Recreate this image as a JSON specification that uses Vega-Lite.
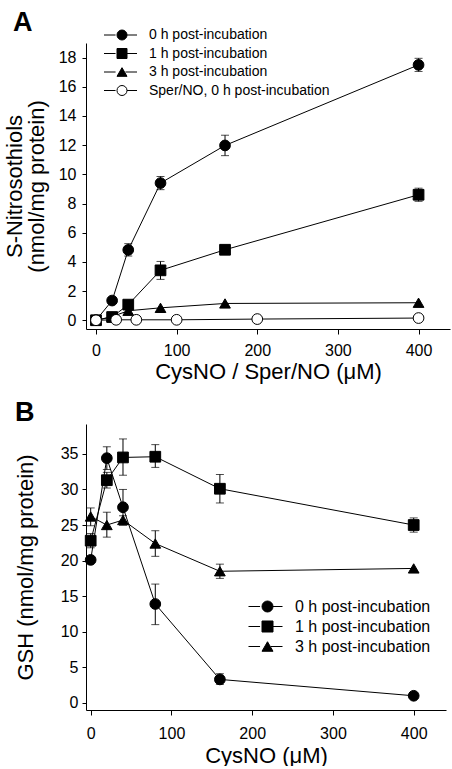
{
  "$schema": "https://vega.github.io/schema/vega-lite/v6.json",
  "padding": {"left": 3, "top": 9, "right": 2, "bottom": 0},
  "spacing": 17,
  "resolve": {"scale": {"shape": "independent", "fill": "independent", "stroke": "independent"}, "legend": {"shape": "independent", "fill": "independent", "stroke": "independent"}},
  "config": {
    "font": "Liberation Sans",
    "view": {"stroke": null},
    "axis": {"grid": false, "domainColor": "black", "tickColor": "black", "labelColor": "black", "titleColor": "black", "labelFontSize": 16, "titleFontSize": 22, "titleFontWeight": "normal", "tickSize": 5, "labelPadding": 5, "domainWidth": 1, "tickWidth": 1, "labelOverlap": false, "titleLineHeight": 22},
    "legend": {"title": null, "orient": "none", "symbolStrokeWidth": 1, "labelColor": "black", "padding": 0, "labelLimit": 400},
    "title": {"anchor": "start", "frame": "group", "fontSize": 27, "fontWeight": "bold", "color": "black"}
  },
  "datasets": {
    "A": [
      {"series": "0 h post-incubation", "x": 0, "y": 0},
      {"series": "0 h post-incubation", "x": 20, "y": 1.35},
      {"series": "0 h post-incubation", "x": 40, "y": 4.82, "lo": 4.4, "hi": 5.25},
      {"series": "0 h post-incubation", "x": 80, "y": 9.4, "lo": 8.95, "hi": 9.85},
      {"series": "0 h post-incubation", "x": 160, "y": 11.98, "lo": 11.28, "hi": 12.68},
      {"series": "0 h post-incubation", "x": 400, "y": 17.5, "lo": 17.05, "hi": 17.95},
      {"series": "1 h post-incubation", "x": 0, "y": 0},
      {"series": "1 h post-incubation", "x": 20, "y": 0.22},
      {"series": "1 h post-incubation", "x": 40, "y": 1.07},
      {"series": "1 h post-incubation", "x": 80, "y": 3.42, "lo": 2.8, "hi": 4.03},
      {"series": "1 h post-incubation", "x": 160, "y": 4.83, "lo": 4.55, "hi": 5.1},
      {"series": "1 h post-incubation", "x": 400, "y": 8.6, "lo": 8.15, "hi": 9.05},
      {"series": "3 h post-incubation", "x": 0, "y": 0},
      {"series": "3 h post-incubation", "x": 20, "y": 0.25},
      {"series": "3 h post-incubation", "x": 40, "y": 0.65},
      {"series": "3 h post-incubation", "x": 80, "y": 0.85},
      {"series": "3 h post-incubation", "x": 160, "y": 1.15},
      {"series": "3 h post-incubation", "x": 400, "y": 1.2},
      {"series": "Sper/NO, 0 h post-incubation", "x": 0, "y": 0},
      {"series": "Sper/NO, 0 h post-incubation", "x": 25, "y": 0.03},
      {"series": "Sper/NO, 0 h post-incubation", "x": 50, "y": 0.03},
      {"series": "Sper/NO, 0 h post-incubation", "x": 100, "y": 0.03},
      {"series": "Sper/NO, 0 h post-incubation", "x": 200, "y": 0.08},
      {"series": "Sper/NO, 0 h post-incubation", "x": 400, "y": 0.15}
    ],
    "B": [
      {"series": "0 h post-incubation", "x": 0, "y": 20.1},
      {"series": "0 h post-incubation", "x": 20, "y": 34.4, "lo": 32.8, "hi": 36.0},
      {"series": "0 h post-incubation", "x": 40, "y": 27.5, "lo": 25.0, "hi": 30.0},
      {"series": "0 h post-incubation", "x": 80, "y": 13.9, "lo": 11.0, "hi": 16.7},
      {"series": "0 h post-incubation", "x": 160, "y": 3.3, "lo": 2.6, "hi": 4.1},
      {"series": "0 h post-incubation", "x": 400, "y": 1.0},
      {"series": "1 h post-incubation", "x": 0, "y": 22.8, "lo": 21.8, "hi": 23.8},
      {"series": "1 h post-incubation", "x": 20, "y": 31.3, "lo": 30.2, "hi": 32.4},
      {"series": "1 h post-incubation", "x": 40, "y": 34.5, "lo": 32.0, "hi": 37.1},
      {"series": "1 h post-incubation", "x": 80, "y": 34.6, "lo": 33.1, "hi": 36.3},
      {"series": "1 h post-incubation", "x": 160, "y": 30.1, "lo": 28.1, "hi": 32.1},
      {"series": "1 h post-incubation", "x": 400, "y": 25.0, "lo": 24.0, "hi": 26.0},
      {"series": "3 h post-incubation", "x": 0, "y": 26.2, "lo": 24.9, "hi": 27.4},
      {"series": "3 h post-incubation", "x": 20, "y": 25.0, "lo": 23.3, "hi": 26.8},
      {"series": "3 h post-incubation", "x": 40, "y": 25.7, "lo": 25.0, "hi": 26.3},
      {"series": "3 h post-incubation", "x": 80, "y": 22.4, "lo": 20.6, "hi": 24.2},
      {"series": "3 h post-incubation", "x": 160, "y": 18.5, "lo": 17.5, "hi": 19.5},
      {"series": "3 h post-incubation", "x": 400, "y": 18.9}
    ]
  },
  "vconcat": [
    {
      "width": 364,
      "height": 286,
      "title": {"text": "A", "dx": -73, "offset": -9},
      "data": {"name": "A"},
      "layer": [
        {
          "transform": [{"filter": "isValid(datum.lo)"}],
          "mark": {"type": "errorbar", "color": "black", "ticks": {"size": 8, "color": "black"}},
          "encoding": {
            "x": {"field": "x", "type": "quantitative", "scale": {"domain": [-12.4, 439], "nice": false, "zero": false}, "axis": {"values": [0, 100, 200, 300, 400], "labelPadding": 8, "titlePadding": 3}, "title": "CysNO / Sper/NO (μM)"},
            "y": {"field": "lo", "type": "quantitative", "scale": {"domain": [-0.6, 19], "nice": false, "zero": false}, "axis": {"values": [0, 2, 4, 6, 8, 10, 12, 14, 16, 18], "tickSize": 4, "labelPadding": 6, "titlePadding": 10}, "title": ["S-Nitrosothiols", "(nmol/mg protein)"]},
            "y2": {"field": "hi"}
          }
        },
        {
          "mark": {"type": "line", "strokeWidth": 1},
          "encoding": {
            "x": {"field": "x", "type": "quantitative", "scale": {"domain": [-12.4, 439], "nice": false, "zero": false}, "axis": {"values": [0, 100, 200, 300, 400], "labelPadding": 8, "titlePadding": 3}, "title": "CysNO / Sper/NO (μM)"},
            "y": {"field": "y", "type": "quantitative", "scale": {"domain": [-0.6, 19], "nice": false, "zero": false}, "axis": {"values": [0, 2, 4, 6, 8, 10, 12, 14, 16, 18], "tickSize": 4, "labelPadding": 6, "titlePadding": 10}, "title": ["S-Nitrosothiols", "(nmol/mg protein)"]},
            "stroke": {"field": "series", "type": "nominal",
              "scale": {"range": ["black", "black", "black", "black"]},
              "legend": {"legendX": 17.5, "legendY": -15, "symbolType": "M-1,0H-0.3M0.3,0H1", "symbolSize": 1089, "symbolStrokeWidth": 1, "clipHeight": 14, "labelFontSize": 14, "labelOpacity": 0, "labelExpr": "''", "rowPadding": 4.5}}
          }
        },
        {
          "mark": {"type": "point", "filled": true, "size": 115, "stroke": "black", "strokeWidth": 1, "opacity": 1},
          "encoding": {
            "x": {"field": "x", "type": "quantitative", "scale": {"domain": [-12.4, 439], "nice": false, "zero": false}, "axis": {"values": [0, 100, 200, 300, 400], "labelPadding": 8, "titlePadding": 3}, "title": "CysNO / Sper/NO (μM)"},
            "y": {"field": "y", "type": "quantitative", "scale": {"domain": [-0.6, 19], "nice": false, "zero": false}, "axis": {"values": [0, 2, 4, 6, 8, 10, 12, 14, 16, 18], "tickSize": 4, "labelPadding": 6, "titlePadding": 10}, "title": ["S-Nitrosothiols", "(nmol/mg protein)"]},
            "shape": {"field": "series", "type": "nominal",
              "scale": {"domain": ["0 h post-incubation", "1 h post-incubation", "3 h post-incubation", "Sper/NO, 0 h post-incubation"], "range": ["circle", "square", "triangle-up", "circle"]},
              "legend": {"legendX": 29, "legendY": -15, "symbolSize": 100, "clipHeight": 14, "labelFontSize": 14, "labelOffset": 20, "rowPadding": 4.5}},
            "fill": {"field": "series", "type": "nominal",
              "scale": {"domain": ["0 h post-incubation", "1 h post-incubation", "3 h post-incubation", "Sper/NO, 0 h post-incubation"], "range": ["black", "black", "black", "white"]},
              "legend": {"legendX": 29, "legendY": -15, "symbolSize": 100, "clipHeight": 14, "labelFontSize": 14, "labelOffset": 20, "rowPadding": 4.5}}
          }
        }
      ]
    },
    {
      "width": 360,
      "height": 286,
      "title": {"text": "B", "dx": -71, "offset": -3},
      "data": {"name": "B"},
      "layer": [
        {
          "transform": [{"filter": "isValid(datum.lo)"}],
          "mark": {"type": "errorbar", "color": "black", "ticks": {"size": 8, "color": "black"}},
          "encoding": {
            "x": {"field": "x", "type": "quantitative", "scale": {"domain": [-5.8, 440], "nice": false, "zero": false}, "axis": {"values": [0, 100, 200, 300, 400], "labelPadding": 10, "titlePadding": 4}, "title": "CysNO (μM)"},
            "y": {"field": "lo", "type": "quantitative", "scale": {"domain": [-1, 39.2], "nice": false, "zero": false}, "axis": {"values": [0, 5, 10, 15, 20, 25, 30, 35], "tickSize": 4, "labelPadding": 4, "titlePadding": 23}, "title": "GSH (nmol/mg protein)"},
            "y2": {"field": "hi"}
          }
        },
        {
          "mark": {"type": "line", "strokeWidth": 1},
          "encoding": {
            "x": {"field": "x", "type": "quantitative", "scale": {"domain": [-5.8, 440], "nice": false, "zero": false}, "axis": {"values": [0, 100, 200, 300, 400], "labelPadding": 10, "titlePadding": 4}, "title": "CysNO (μM)"},
            "y": {"field": "y", "type": "quantitative", "scale": {"domain": [-1, 39.2], "nice": false, "zero": false}, "axis": {"values": [0, 5, 10, 15, 20, 25, 30, 35], "tickSize": 4, "labelPadding": 4, "titlePadding": 23}, "title": "GSH (nmol/mg protein)"},
            "stroke": {"field": "series", "type": "nominal",
              "scale": {"range": ["black", "black", "black"]},
              "legend": {"legendX": 162, "legendY": 174.5, "symbolType": "M-1,0H-0.32M0.32,0H1", "symbolSize": 1156, "symbolStrokeWidth": 1, "clipHeight": 16, "labelFontSize": 16, "labelOpacity": 0, "labelExpr": "''", "rowPadding": 4}}
          }
        },
        {
          "mark": {"type": "point", "filled": true, "size": 115, "stroke": "black", "strokeWidth": 1, "opacity": 1},
          "encoding": {
            "x": {"field": "x", "type": "quantitative", "scale": {"domain": [-5.8, 440], "nice": false, "zero": false}, "axis": {"values": [0, 100, 200, 300, 400], "labelPadding": 10, "titlePadding": 4}, "title": "CysNO (μM)"},
            "y": {"field": "y", "type": "quantitative", "scale": {"domain": [-1, 39.2], "nice": false, "zero": false}, "axis": {"values": [0, 5, 10, 15, 20, 25, 30, 35], "tickSize": 4, "labelPadding": 4, "titlePadding": 23}, "title": "GSH (nmol/mg protein)"},
            "shape": {"field": "series", "type": "nominal",
              "scale": {"domain": ["0 h post-incubation", "1 h post-incubation", "3 h post-incubation"], "range": ["circle", "square", "triangle-up"]},
              "legend": {"legendX": 173.5, "legendY": 174.5, "symbolSize": 121, "clipHeight": 16, "labelFontSize": 16, "labelOffset": 19.5, "rowPadding": 4}},
            "fill": {"field": "series", "type": "nominal",
              "scale": {"domain": ["0 h post-incubation", "1 h post-incubation", "3 h post-incubation"], "range": ["black", "black", "black"]},
              "legend": {"legendX": 173.5, "legendY": 174.5, "symbolSize": 121, "clipHeight": 16, "labelFontSize": 16, "labelOffset": 19.5, "rowPadding": 4}}
          }
        }
      ]
    }
  ]
}
